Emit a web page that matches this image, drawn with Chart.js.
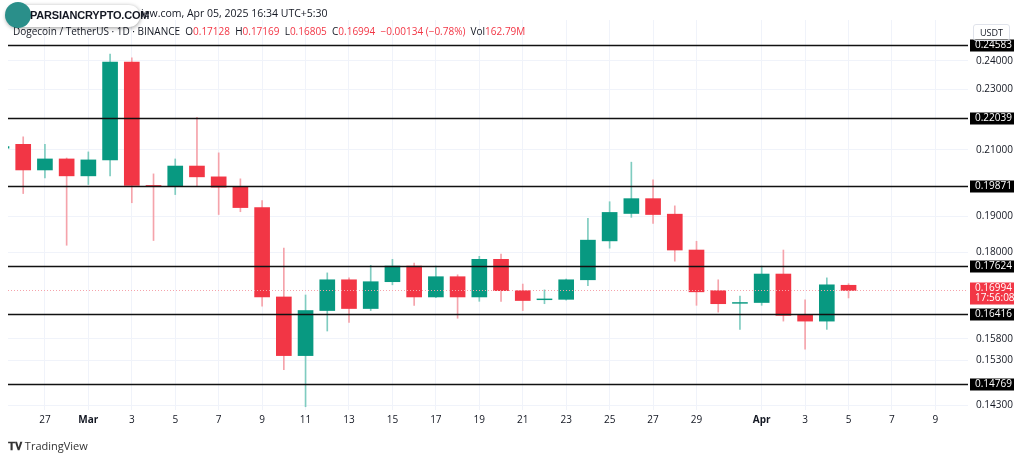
<!DOCTYPE html>
<html><head><meta charset="utf-8">
<script src="https://cdn.jsdelivr.net/npm/chart.js@4"></script>
<style>
html,body{margin:0;padding:0;background:#fff;overflow:hidden}
#wrap{position:relative;width:1024px;height:456px}
canvas{position:absolute;left:0;top:0}
.hdr{position:absolute;font-family:"Open Sans",sans-serif;font-size:10px;color:#131722;white-space:nowrap}
</style></head><body>
<div id="wrap">
<canvas id="c" width="1024" height="456"></canvas>
<div class="hdr" style="left:141px;top:6px;font-size:10.5px">iew.com, Apr 05, 2025 16:34 UTC+5:30</div>
<div class="hdr" style="left:13px;top:24px">Dogecoin / TetherUS · 1D · BINANCE &nbsp;O<span style="color:#f23645">0.17128</span> &nbsp;H<span style="color:#f23645">0.17169</span> &nbsp;L<span style="color:#f23645">0.16805</span> &nbsp;C<span style="color:#f23645">0.16994</span> &nbsp;<span style="color:#f23645">−0.00134 (−0.78%)</span> &nbsp;Vol<span style="color:#f23645">162.79M</span></div>
<div style="position:absolute;left:6px;top:5px;width:134px;height:22px;border-radius:11px;background:#fff;box-shadow:0 1px 4px rgba(0,0,0,.4)"></div>
<div style="position:absolute;left:5px;top:2px;width:26px;height:26px;border-radius:13px;background:#2a8f8a"></div>
<div class="hdr" style="left:30px;top:9px;font-weight:700;font-size:11px;font-family:'Liberation Sans',sans-serif;letter-spacing:-0.2px">PARSIANCRYPTO.COM</div>
<div class="hdr" style="left:973px;top:24px;border:1px solid #e0e3eb;border-radius:3px;padding:1px 6px;font-size:9px">USDT</div>
<div class="hdr" style="left:8px;top:438px;font-size:11px;color:#333"><b style="font-family:'DejaVu Sans'">𝐓𝐕</b> TradingView</div>
</div>
<script>
// day index: 0 = Feb 27
const days  = [-2,-1,0,1,2,3,4,5,6,7,8,9,10,11,12,13,14,15,16,17,18,19,20,21,22,23,24,25,26,27,28,29,30,31,32,33,34,35,36,37];
const opens = [0.2105,0.2117,0.2037,0.2071,0.2019,0.2068,0.2396,0.1990,0.1987,0.2049,0.2016,0.1985,0.1925,0.1683,0.1541,0.1649,0.1727,0.1654,0.1722,0.1763,0.1683,0.1735,0.1683,0.1781,0.1699,0.1676,0.1677,0.1727,0.1831,0.1908,0.1951,0.1906,0.1806,0.1699,0.1667,0.1669,0.1742,0.1639,0.1623,0.17128];
const highs = [0.2120,0.2141,0.2117,0.2074,0.2093,0.2425,0.2411,0.2025,0.2071,0.2205,0.2090,0.2010,0.1945,0.1811,0.1688,0.1745,0.1732,0.1765,0.1781,0.1771,0.1763,0.1740,0.1789,0.1795,0.1716,0.1701,0.1729,0.1894,0.1942,0.2061,0.2007,0.1930,0.1830,0.1727,0.1685,0.1763,0.1806,0.1676,0.1732,0.17169];
const lows  = [0.2100,0.1966,0.2013,0.1819,0.1993,0.2019,0.1939,0.1832,0.1963,0.1987,0.1905,0.1913,0.1660,0.1509,0.1427,0.1599,0.1620,0.1649,0.1714,0.1662,0.1681,0.1630,0.1672,0.1672,0.1649,0.1666,0.1675,0.1712,0.1811,0.1897,0.1880,0.1776,0.1662,0.1645,0.1603,0.1662,0.1623,0.1556,0.1603,0.16805];
const closes= [0.2110,0.2037,0.2071,0.2019,0.2068,0.2396,0.1990,0.1988,0.2049,0.2016,0.1985,0.1925,0.1683,0.1541,0.1649,0.1727,0.1654,0.1722,0.1763,0.1683,0.1735,0.1683,0.1781,0.1699,0.1674,0.1678,0.1727,0.1833,0.1911,0.1951,0.1905,0.1806,0.1696,0.1666,0.1669,0.1742,0.1637,0.1623,0.1714,0.16994];
const levels = [0.24583,0.22039,0.19871,0.17624,0.16416,0.14769];
const lastPrice = 0.16994, countdown = "17:56:08";
const priceTicks = [0.24,0.23,0.21,0.19,0.18,0.158,0.153,0.143];
const dayTicks  = [0,2,4,6,8,10,12,14,16,18,20,22,24,26,28,30,33,35,37,39,41];
const dayLabels = ["27","Mar","3","5","7","9","11","13","15","17","19","21","23","25","27","29","Apr","3","5","7","9"];

const UP='#089981', DN='#f23645', UPW='#7fccc0', DNW='#f5a3ab';
const isUp = i => closes[i] >= opens[i];
const body = days.map((d,i)=>({x:d,y:[opens[i],Math.abs(closes[i]-opens[i])<0.0002?opens[i]+(isUp(i)?0.0002:-0.0002):closes[i]]}));
const wick = days.map((d,i)=>({x:d,y:[lows[i],highs[i]]}));

const overlay = {
  id:'overlay',
  afterDatasetsDraw(ch){
    const {ctx,chartArea:a,scales:{y}}=ch;
    ctx.save();
    const yp=y.getPixelForValue(lastPrice);
    ctx.strokeStyle='#f5a3ab';ctx.setLineDash([1,2]);ctx.lineWidth=1;
    ctx.beginPath();ctx.moveTo(a.left,yp);ctx.lineTo(a.right,yp);ctx.stroke();ctx.setLineDash([]);
    ctx.font='10px "Open Sans", sans-serif';ctx.textBaseline='middle';
    levels.forEach(v=>{
      const py=Math.round(y.getPixelForValue(v))+0.5;
      ctx.strokeStyle='#111';ctx.lineWidth=1.5;
      ctx.beginPath();ctx.moveTo(a.left,py);ctx.lineTo(a.right,py);ctx.stroke();
      ctx.fillStyle='#000';ctx.fillRect(a.right+2,py-6,44,12);
      ctx.fillStyle='#fff';ctx.fillText(v.toFixed(5),a.right+7,py);
    });
    ctx.fillStyle=DN;ctx.fillRect(a.right+2,yp-8,44,22);
    ctx.fillStyle='#fff';ctx.fillText(lastPrice.toFixed(5),a.right+7,yp-2);
    ctx.fillText(countdown,a.right+7,yp+8);
    ctx.restore();
  }
};

new Chart(document.getElementById('c'),{
  type:'bar',
  data:{datasets:[
    {data:wick,backgroundColor:days.map((d,i)=>isUp(i)?UPW:DNW),barThickness:1,grouped:false,order:2},
    {data:body,backgroundColor:days.map((d,i)=>isUp(i)?UP:DN),barThickness:15,grouped:false,order:1}
  ]},
  options:{
    responsive:false,animation:false,
    layout:{padding:{left:8,top:20,right:8,bottom:26}},
    plugins:{legend:{display:false},tooltip:{enabled:false}},
    scales:{
      x:{type:'linear',offset:false,min:-1.7,max:42.5,
        afterBuildTicks:s=>{s.ticks=dayTicks.map(v=>({value:v}));},
        afterFit:s=>{s.height=20;},
        ticks:{autoSkip:false,maxRotation:0,color:'#131722',padding:4,
          font:c=>({family:'"Open Sans", sans-serif',size:10,weight:(dayLabels[c.index]==='Mar'||dayLabels[c.index]==='Apr')?'bold':'normal'}),
          callback:(v,i)=>dayLabels[i]},
        grid:{color:'#f0f3fa',drawTicks:false,offset:false},border:{display:false}},
      y:{type:'logarithmic',position:'right',min:0.1420,max:0.2552,
        afterBuildTicks:s=>{s.ticks=priceTicks.map(v=>({value:v}));},
        afterFit:s=>{s.width=48;},
        ticks:{color:'#131722',padding:8,font:{family:'"Open Sans", sans-serif',size:10},callback:v=>v.toFixed(5)},
        grid:{color:'#f0f3fa',drawTicks:false},border:{display:false}}
    }
  },
  plugins:[overlay]
});
</script>
</body></html>
